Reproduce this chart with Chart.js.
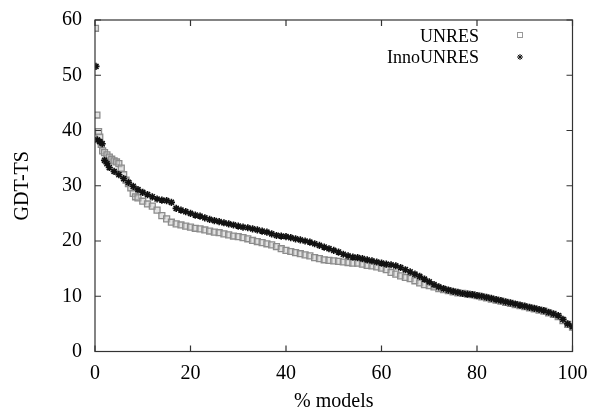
<!DOCTYPE html>
<html>
<head>
  <title>GDT-TS vs % models</title>
  <script src="https://cdn.jsdelivr.net/npm/chart.js"></script>
  <style>
    body { margin: 0; background: #fff; }
  </style>
</head>
<body>
  <canvas id="myChart" width="593" height="414"></canvas>
  <script>
    // UNRES (grey squares)
    var unresX = [0.1, 0.4, 0.75, 1, 1.3, 1.6, 2, 2.5, 3, 3.5, 4, 4.5, 5, 5.5, 6, 6.5, 7, 7.5, 8, 8.5, 9,
      10, 11, 12, 13, 14, 15, 16, 17, 18, 19, 20, 21, 22, 23, 24, 25, 26, 27, 28, 29, 30,
      31, 32, 33, 34, 35, 36, 37, 38, 39, 40, 41, 42, 43, 44, 45, 46, 47, 48, 49, 50,
      51, 52, 53, 54, 55, 56, 57, 58, 59, 60, 61, 62, 63, 64, 65, 66, 67, 68, 69, 70,
      71, 72, 73, 74, 75, 76, 77, 78, 79, 80, 81, 82, 83, 84, 85, 86, 87, 88, 89, 90,
      91, 92, 93, 94, 95, 96, 97, 98, 99, 100];
    var unresY = [58.5, 42.8, 39.8, 38.8, 37.5, 36.3, 36.0, 35.6, 35.2, 34.8, 34.5, 34.3, 34.0, 33.2, 32.0, 31.0, 30.4, 29.6, 28.6, 28.0, 27.8,
      27.2, 26.7, 26.3, 25.6, 24.6, 24.0, 23.4, 23.1, 22.9, 22.7, 22.5, 22.3, 22.2, 22.0, 21.8, 21.6, 21.5, 21.3, 21.1, 20.9, 20.8,
      20.6, 20.4, 20.1, 19.9, 19.7, 19.5, 19.3, 19.0, 18.6, 18.3, 18.1, 17.9, 17.7, 17.5, 17.3, 17.0, 16.8, 16.6, 16.5, 16.4,
      16.3, 16.2, 16.1, 16.0, 16.0, 15.8, 15.6, 15.5, 15.3, 15.1, 14.8, 14.3, 14.0, 13.7, 13.4, 13.2, 12.8, 12.4, 12.1, 11.9,
      11.7, 11.4, 11.2, 11.0, 10.8, 10.6, 10.5, 10.4, 10.3, 10.1, 9.9, 9.7, 9.5, 9.3, 9.1, 8.9, 8.7, 8.5, 8.3, 8.1,
      7.9, 7.7, 7.5, 7.3, 7.0, 6.7, 6.3, 5.6, 4.9, 4.4];

    // InnoUNRES (black asterisks)
    var innoX = [0.2, 0.5, 1, 1.5, 2, 2.5, 3, 4, 5, 6, 7, 8, 9, 10,
      11, 12, 13, 14, 15, 16, 17, 18, 19, 20, 21, 22, 23, 24, 25, 26, 27, 28, 29, 30,
      31, 32, 33, 34, 35, 36, 37, 38, 39, 40, 41, 42, 43, 44, 45, 46, 47, 48, 49, 50,
      51, 52, 53, 54, 55, 56, 57, 58, 59, 60, 61, 62, 63, 64, 65, 66, 67, 68, 69, 70,
      71, 72, 73, 74, 75, 76, 77, 78, 79, 80, 81, 82, 83, 84, 85, 86, 87, 88, 89, 90,
      91, 92, 93, 94, 95, 96, 97, 98, 99, 100];
    var innoY = [51.6, 38.3, 38.0, 37.6, 34.6, 34.0, 33.3, 32.6, 32.0, 31.3, 30.6, 29.9, 29.3, 28.8,
      28.4, 28.0, 27.6, 27.4, 27.3, 27.0, 25.9, 25.6, 25.3, 25.0, 24.7, 24.5, 24.2, 23.9, 23.7, 23.5, 23.3, 23.1, 22.9, 22.7,
      22.5, 22.4, 22.2, 22.0, 21.8, 21.6, 21.3, 21.0, 20.9, 20.8, 20.6, 20.4, 20.2, 20.0, 19.8, 19.5, 19.2, 18.9, 18.6, 18.3,
      18.0, 17.6, 17.3, 17.1, 17.0, 16.8, 16.6, 16.4, 16.2, 16.0, 15.8, 15.7, 15.5, 15.2, 14.8, 14.4, 14.0, 13.6, 13.1, 12.6,
      12.1, 11.7, 11.4, 11.1, 10.9, 10.7, 10.5, 10.4, 10.3, 10.1, 10.0, 9.8, 9.6, 9.4, 9.2, 9.0, 8.8, 8.6, 8.4, 8.2,
      8.0, 7.8, 7.6, 7.4, 7.1, 6.8, 6.5, 5.8, 5.0, 4.5];

    var xTicks = [0, 20, 40, 60, 80, 100];
    var yTicks = [0, 10, 20, 30, 40, 50, 60];

    function toPoints(xs, ys) {
      return xs.map(function (x, i) { return { x: x, y: ys[i] }; });
    }

    var serif = 'Liberation Serif, Times New Roman, serif';

    // cadre + graduations vers l'interieur (style gnuplot) + legende
    var framePlugin = {
      id: 'frame',
      afterDraw: function (chart) {
        var ctx = chart.ctx;
        var a = chart.chartArea;
        var sx = chart.scales.x, sy = chart.scales.y;
        ctx.save();
        ctx.strokeStyle = '#333';
        ctx.lineWidth = 1.2;
        ctx.strokeRect(a.left, a.top, a.right - a.left, a.bottom - a.top);
        ctx.beginPath();
        xTicks.forEach(function (v) {
          var px = sx.getPixelForValue(v);
          ctx.moveTo(px, a.bottom); ctx.lineTo(px, a.bottom - 6);
          ctx.moveTo(px, a.top); ctx.lineTo(px, a.top + 6);
        });
        yTicks.forEach(function (v) {
          var py = sy.getPixelForValue(v);
          ctx.moveTo(a.left, py); ctx.lineTo(a.left + 6, py);
          ctx.moveTo(a.right, py); ctx.lineTo(a.right - 6, py);
        });
        ctx.stroke();

        // legende
        ctx.fillStyle = '#000';
        ctx.font = '18px ' + serif;
        ctx.textAlign = 'right';
        ctx.textBaseline = 'middle';
        ctx.fillText('UNRES', 479, 37);
        ctx.fillText('InnoUNRES', 479, 58);
        ctx.strokeStyle = '#999';
        ctx.lineWidth = 1;
        ctx.strokeRect(517.5, 32.5, 5, 5);
        ctx.strokeStyle = '#111';
        ctx.beginPath();
        var cx = 520, cy = 57, r = 3;
        ctx.moveTo(cx - r, cy); ctx.lineTo(cx + r, cy);
        ctx.moveTo(cx, cy - r); ctx.lineTo(cx, cy + r);
        ctx.moveTo(cx - r * 0.7, cy - r * 0.7); ctx.lineTo(cx + r * 0.7, cy + r * 0.7);
        ctx.moveTo(cx - r * 0.7, cy + r * 0.7); ctx.lineTo(cx + r * 0.7, cy - r * 0.7);
        ctx.stroke();
        ctx.restore();
      }
    };

    var ctx = document.getElementById('myChart').getContext('2d');
    var myChart = new Chart(ctx, {
      type: 'scatter',
      data: {
        datasets: [
          {
            label: 'UNRES',
            data: toPoints(unresX, unresY),
            pointStyle: 'rect',
            pointRadius: 4.2,
            borderColor: '#8c8c8c',
            backgroundColor: 'rgba(200,200,200,0.5)',
            borderWidth: 1.3,
            order: 1
          },
          {
            label: 'InnoUNRES',
            data: toPoints(innoX, innoY),
            pointStyle: 'star',
            pointRadius: 3.6,
            borderColor: '#111',
            backgroundColor: '#111',
            borderWidth: 1.6,
            order: 0
          }
        ]
      },
      options: {
        responsive: false,
        animation: false,
        layout: { padding: { left: 0, right: 20.5, top: 20, bottom: 0 } },
        plugins: {
          legend: { display: false },
          tooltip: { enabled: false }
        },
        scales: {
          x: {
            type: 'linear',
            min: 0,
            max: 100,
            afterFit: function (s) { s.height = 62.5; s.paddingLeft = 0; s.paddingRight = 0; },
            afterBuildTicks: function (s) { s.ticks = xTicks.map(function (v) { return { value: v }; }); },
            border: { display: false },
            grid: { display: false, drawTicks: false },
            ticks: { color: '#000', padding: 10, maxRotation: 0, font: { family: serif, size: 20 } },
            title: { display: true, text: '% models', color: '#000', padding: { top: 0, bottom: 0 }, font: { family: serif, size: 20 } }
          },
          y: {
            min: 0,
            max: 60,
            afterFit: function (s) { s.width = 95; s.paddingTop = 0; s.paddingBottom = 0; },
            afterBuildTicks: function (s) { s.ticks = yTicks.map(function (v) { return { value: v }; }); },
            border: { display: false },
            grid: { display: false, drawTicks: false },
            ticks: { color: '#000', padding: 13, font: { family: serif, size: 20 } },
            title: { display: true, text: 'GDT-TS', color: '#000', padding: { top: 11, bottom: 0 }, font: { family: serif, size: 20 } }
          }
        }
      },
      plugins: [framePlugin]
    });
  </script>
</body>
</html>
